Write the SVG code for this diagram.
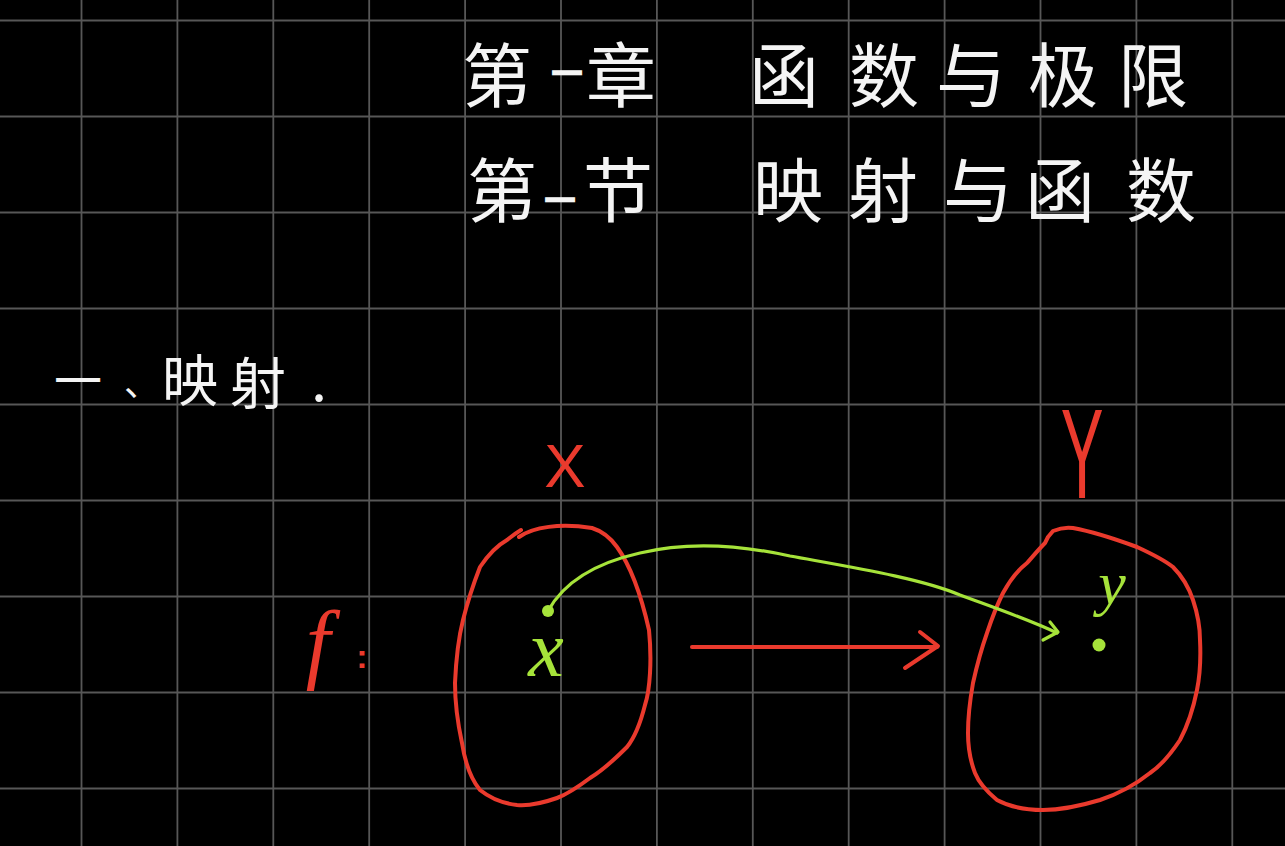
<svg xmlns="http://www.w3.org/2000/svg" width="1285" height="846" viewBox="0 0 1285 846">
<style>
.grid line{stroke:#575757;stroke-width:1.8}
.cjk{font-family:"Noto Sans CJK SC","Noto Sans",sans-serif;fill:#f4f4f4;text-anchor:middle}
.thick{stroke:#f4f4f4;stroke-width:2.5}
.red{stroke:#ea3a2d;stroke-width:4;fill:none;stroke-linecap:round;stroke-linejoin:round}
.grn{stroke:#a6e33a;stroke-width:3.2;fill:none;stroke-linecap:round;stroke-linejoin:round}
.lblR{fill:#ea3a2d;text-anchor:middle}
.lblG{fill:#a6e33a;text-anchor:middle;font-family:"Liberation Serif",serif;font-style:italic}
</style>
<rect width="1285" height="846" fill="#000"/>
<g class="grid" id="grid">
<line x1="81.5" y1="0" x2="81.5" y2="846"/>
<line x1="177.4" y1="0" x2="177.4" y2="846"/>
<line x1="273.3" y1="0" x2="273.3" y2="846"/>
<line x1="369.2" y1="0" x2="369.2" y2="846"/>
<line x1="465.1" y1="0" x2="465.1" y2="846"/>
<line x1="561" y1="0" x2="561" y2="846"/>
<line x1="656.9" y1="0" x2="656.9" y2="846"/>
<line x1="752.8" y1="0" x2="752.8" y2="846"/>
<line x1="848.7" y1="0" x2="848.7" y2="846"/>
<line x1="944.6" y1="0" x2="944.6" y2="846"/>
<line x1="1040.5" y1="0" x2="1040.5" y2="846"/>
<line x1="1136.4" y1="0" x2="1136.4" y2="846"/>
<line x1="1232.3" y1="0" x2="1232.3" y2="846"/>
<line x1="0" y1="20.5" x2="1285" y2="20.5"/>
<line x1="0" y1="116.5" x2="1285" y2="116.5"/>
<line x1="0" y1="212.5" x2="1285" y2="212.5"/>
<line x1="0" y1="308.5" x2="1285" y2="308.5"/>
<line x1="0" y1="404.5" x2="1285" y2="404.5"/>
<line x1="0" y1="500.5" x2="1285" y2="500.5"/>
<line x1="0" y1="596.5" x2="1285" y2="596.5"/>
<line x1="0" y1="692.5" x2="1285" y2="692.5"/>
<line x1="0" y1="788.5" x2="1285" y2="788.5"/>
</g>
<g id="title">
<text class="cjk" font-size="70"><tspan x="497" y="102">第</tspan><tspan class="thick" x="567" y="84" font-size="30">一</tspan><tspan x="621" y="102">章</tspan><tspan x="784" y="102">函</tspan><tspan x="884" y="102">数</tspan><tspan x="971" y="102">与</tspan><tspan x="1063" y="102">极</tspan><tspan x="1153" y="102">限</tspan></text>
<text class="cjk" font-size="70"><tspan x="502" y="217">第</tspan><tspan class="thick" x="560" y="211" font-size="30">一</tspan><tspan x="618" y="217">节</tspan><tspan x="788" y="217">映</tspan><tspan x="883" y="217">射</tspan><tspan x="978" y="217">与</tspan><tspan x="1060" y="217">函</tspan><tspan x="1161" y="217">数</tspan></text>
</g>
<g id="heading">
<text class="cjk" font-size="56"><tspan x="78" y="398" font-size="48">一</tspan><tspan x="142" y="396" font-size="36">、</tspan><tspan x="190" y="401">映</tspan><tspan x="258" y="404">射</tspan><tspan x="319" y="401">.</tspan></text>
</g>
<g id="label-f">
<text class="lblR" font-family="Liberation Serif, serif" font-style="italic" font-size="88" x="318" y="672">f</text>
<text class="lblR" font-family="Liberation Sans, sans-serif" font-weight="bold" font-size="34" x="362" y="668">:</text>
</g>
<g id="set-X">
<path class="red" d="M519,537 C533,527 560,523 592,528 C605,532 612,540 617,547 C630,565 640,590 649,630 C652,660 650,690 645,705 C640,725 635,737 627,747 C612,762 600,772 590,778 C578,787 568,794 557,798 C540,804 528,806 517,805 C500,803 490,798 480,790 C470,778 465,762 462,743 C457,720 455,700 455,683 C456,660 458,640 463,620 C468,600 473,585 480,567 C490,552 498,545 507,540 C512,536 516,533 521,530"/>
<text class="lblR" font-family="Liberation Sans, sans-serif" font-size="62" x="565" y="487">X</text>
<circle cx="548" cy="611" r="6" fill="#a6e33a"/>
<text class="lblG" font-size="80" x="546" y="676">x</text>
</g>
<g id="set-Y">
<path class="red" d="M1048,537 L1053,531 C1060,528 1066,527 1073,528 C1095,532 1118,540 1137,547 C1150,553 1163,559 1173,567 C1183,577 1189,588 1193,600 C1198,615 1200,627 1200,640 C1201,660 1200,675 1197,690 C1193,710 1188,725 1180,740 C1170,755 1162,765 1150,773 C1135,785 1118,794 1100,800 C1080,806 1060,810 1043,810 C1025,810 1008,806 997,800 C985,790 979,783 975,773 C970,760 968,748 968,733 C968,715 970,700 973,683 C977,665 981,650 987,633 C992,618 997,605 1003,593 C1010,580 1018,570 1027,563 C1034,555 1040,548 1045,543 L1048,537"/>
<text class="lblR" font-family="Liberation Sans, sans-serif" font-size="80" transform="translate(1082,498) scale(0.8,1.6)">Y</text>
<circle cx="1099" cy="645" r="6.5" fill="#a6e33a"/>
<text class="lblG" font-size="62" x="1112" y="604">y</text>
</g>
<g id="connectors">
<path class="grn" d="M548,611 C565,580 600,562 640,553 C690,541 740,545 790,556 C850,567 920,578 960,595 C995,608 1030,620 1057,633"/>
<polyline class="grn" points="1050,622 1058,632 1043,640"/>
<line class="red" x1="692" y1="647" x2="937" y2="647"/>
<polyline class="red" points="920,632 938,646 905,668"/>
</g>
</svg>
